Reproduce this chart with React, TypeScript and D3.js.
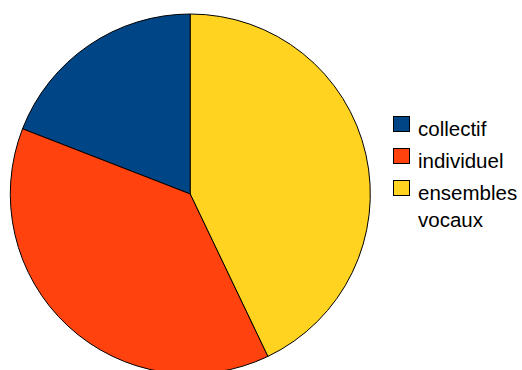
import React from "react";
import * as d3 from "d3";

const categories = ["collectif", "individuel", "ensembles vocaux"];
const values = [19.1, 38.0, 42.9];
const colors = ["#004586", "#ff420e", "#ffd320"];
const legendLines = [["collectif"], ["individuel"], ["ensembles", "vocaux"]];

export default function App() {
  const W = 522, H = 370;
  const cx = 190.3, cy = 194, r = 180;
  const pie = d3.pie<number>().sort(null).startAngle(0).endAngle(-2 * Math.PI);
  const arcs = pie(values);
  const arc = d3.arc<d3.PieArcDatum<number>>().innerRadius(0).outerRadius(r);
  const legendY = d3.scaleLinear().domain([0, 1]).range([116, 148]);
  return (
    <svg width={W} height={H} style={{ position: "fixed", left: 0, top: 0, background: "#fff" }}
      fontFamily="'Liberation Sans', Arial, sans-serif">
      <rect width={W} height={H} fill="#fff" />
      <g transform={`translate(${cx},${cy})`}>
        {arcs.map((a, i) => (
          <path key={i} d={arc(a) || ""} fill={colors[i]} stroke="#000" strokeWidth={1} strokeLinejoin="round" />
        ))}
      </g>
      {categories.map((c, i) => (
        <g key={c}>
          <rect x={393.5} y={legendY(i) + 0.5} width={16} height={15} fill={colors[i]} stroke="#000" strokeWidth={1} />
          {legendLines[i].map((t, j) => (
            <text key={j} x={418} y={legendY(i) + 19.5 + j * 27} fontSize={20.5} fill="#000">{t}</text>
          ))}
        </g>
      ))}
    </svg>
  );
}
